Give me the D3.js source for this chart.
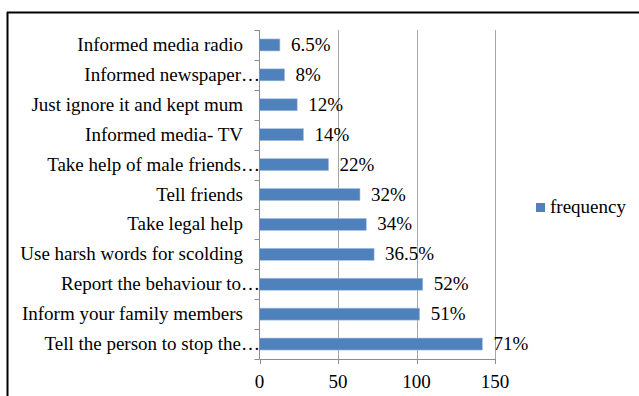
<!DOCTYPE html>
<html>
<head>
<meta charset="utf-8">
<script src="https://cdn.jsdelivr.net/npm/d3@7"></script>
<style>
  html, body { margin: 0; padding: 0; background: #fff; }
  svg { display: block; }
  text { font-family: "Liberation Serif", "Times New Roman", serif; fill: #000; }
</style>
</head>
<body>
<svg id="chart" width="639" height="396"></svg>
<script>
const categories = [
  "Informed media radio",
  "Informed newspaper…",
  "Just ignore it and kept mum",
  "Informed media- TV",
  "Take help of male friends…",
  "Tell friends",
  "Take legal help",
  "Use harsh words for scolding",
  "Report the behaviour to…",
  "Inform your family members",
  "Tell the person to stop the…"
];
const frequency = [13, 16, 24, 28, 44, 64, 68, 73, 104, 102, 142];
const percentLabels = ["6.5%", "8%", "12%", "14%", "22%", "32%", "34%", "36.5%", "52%", "51%", "71%"];
const xTicks = [0, 50, 100, 150];
const seriesName = "frequency";

const svg = d3.select("#chart");
const W = 639, H = 396;

svg.append("line").attr("x1", 7).attr("x2", W).attr("y1", 12.5).attr("y2", 12.5)
  .attr("stroke", "#000").attr("stroke-width", 2);
svg.append("line").attr("x1", 7.5).attr("x2", 7.5).attr("y1", 12).attr("y2", H)
  .attr("stroke", "#000").attr("stroke-width", 2);

const plot = { left: 259.5, right: 495, top: 30, bottom: 359 };

const x = d3.scaleLinear().domain([0, 150]).range([plot.left, plot.right]);
const yb = d3.scaleBand().domain(categories).range([plot.top, plot.bottom]);

svg.append("g").selectAll("line").data(xTicks.filter(d => d > 0)).join("line")
  .attr("x1", d => Math.round(x(d)) + 0.5).attr("x2", d => Math.round(x(d)) + 0.5)
  .attr("y1", plot.top).attr("y2", plot.bottom)
  .attr("stroke", "#a6a6a6").attr("stroke-width", 1);

svg.append("g").selectAll("rect").data(categories).join("rect")
  .attr("x", plot.left)
  .attr("y", d => yb(d) + (yb.bandwidth() - 12) / 2)
  .attr("height", 12)
  .attr("width", (d, i) => x(frequency[i]) - plot.left)
  .attr("fill", "#4F81BD")
  .attr("stroke", "#a9c0de").attr("stroke-width", 0.6);

const gy = svg.append("g");
gy.append("line").attr("x1", plot.left).attr("x2", plot.left)
  .attr("y1", plot.top).attr("y2", plot.bottom).attr("stroke", "#8c8c8c");
const bounds = categories.map(c => yb(c)).concat([plot.bottom]);
gy.selectAll("line.tk").data(bounds).join("line").attr("class", "tk")
  .attr("x1", plot.left - 5).attr("x2", plot.left)
  .attr("y1", d => Math.round(d) + 0.5).attr("y2", d => Math.round(d) + 0.5)
  .attr("stroke", "#8c8c8c");

const gx = svg.append("g");
gx.append("line").attr("x1", plot.left).attr("x2", plot.right)
  .attr("y1", plot.bottom + 0.5).attr("y2", plot.bottom + 0.5).attr("stroke", "#8c8c8c");
gx.selectAll("line.tk").data(xTicks).join("line").attr("class", "tk")
  .attr("x1", d => Math.round(x(d)) + 0.5).attr("x2", d => Math.round(x(d)) + 0.5)
  .attr("y1", plot.bottom).attr("y2", plot.bottom + 5).attr("stroke", "#8c8c8c");
gx.selectAll("text").data(xTicks).join("text")
  .attr("x", d => x(d)).attr("y", 388)
  .attr("text-anchor", "middle").attr("font-size", 19)
  .text(d => d);

svg.append("g").selectAll("text").data(categories).join("text")
  .attr("x", d => d.endsWith("…") ? 260 : 243)
  .attr("y", d => yb(d) + yb.bandwidth() / 2 + 6)
  .attr("text-anchor", "end").attr("font-size", 19)
  .text(d => d);

svg.append("g").selectAll("text").data(categories).join("text")
  .attr("x", (d, i) => x(frequency[i]) + 11)
  .attr("y", d => yb(d) + yb.bandwidth() / 2 + 6)
  .attr("font-size", 19)
  .text((d, i) => percentLabels[i]);

const lg = svg.append("g");
lg.append("rect").attr("x", 536).attr("y", 203).attr("width", 9).attr("height", 9).attr("fill", "#4F81BD");
lg.append("text").attr("x", 550).attr("y", 213).attr("font-size", 19).text(seriesName);
</script>
</body>
</html>
